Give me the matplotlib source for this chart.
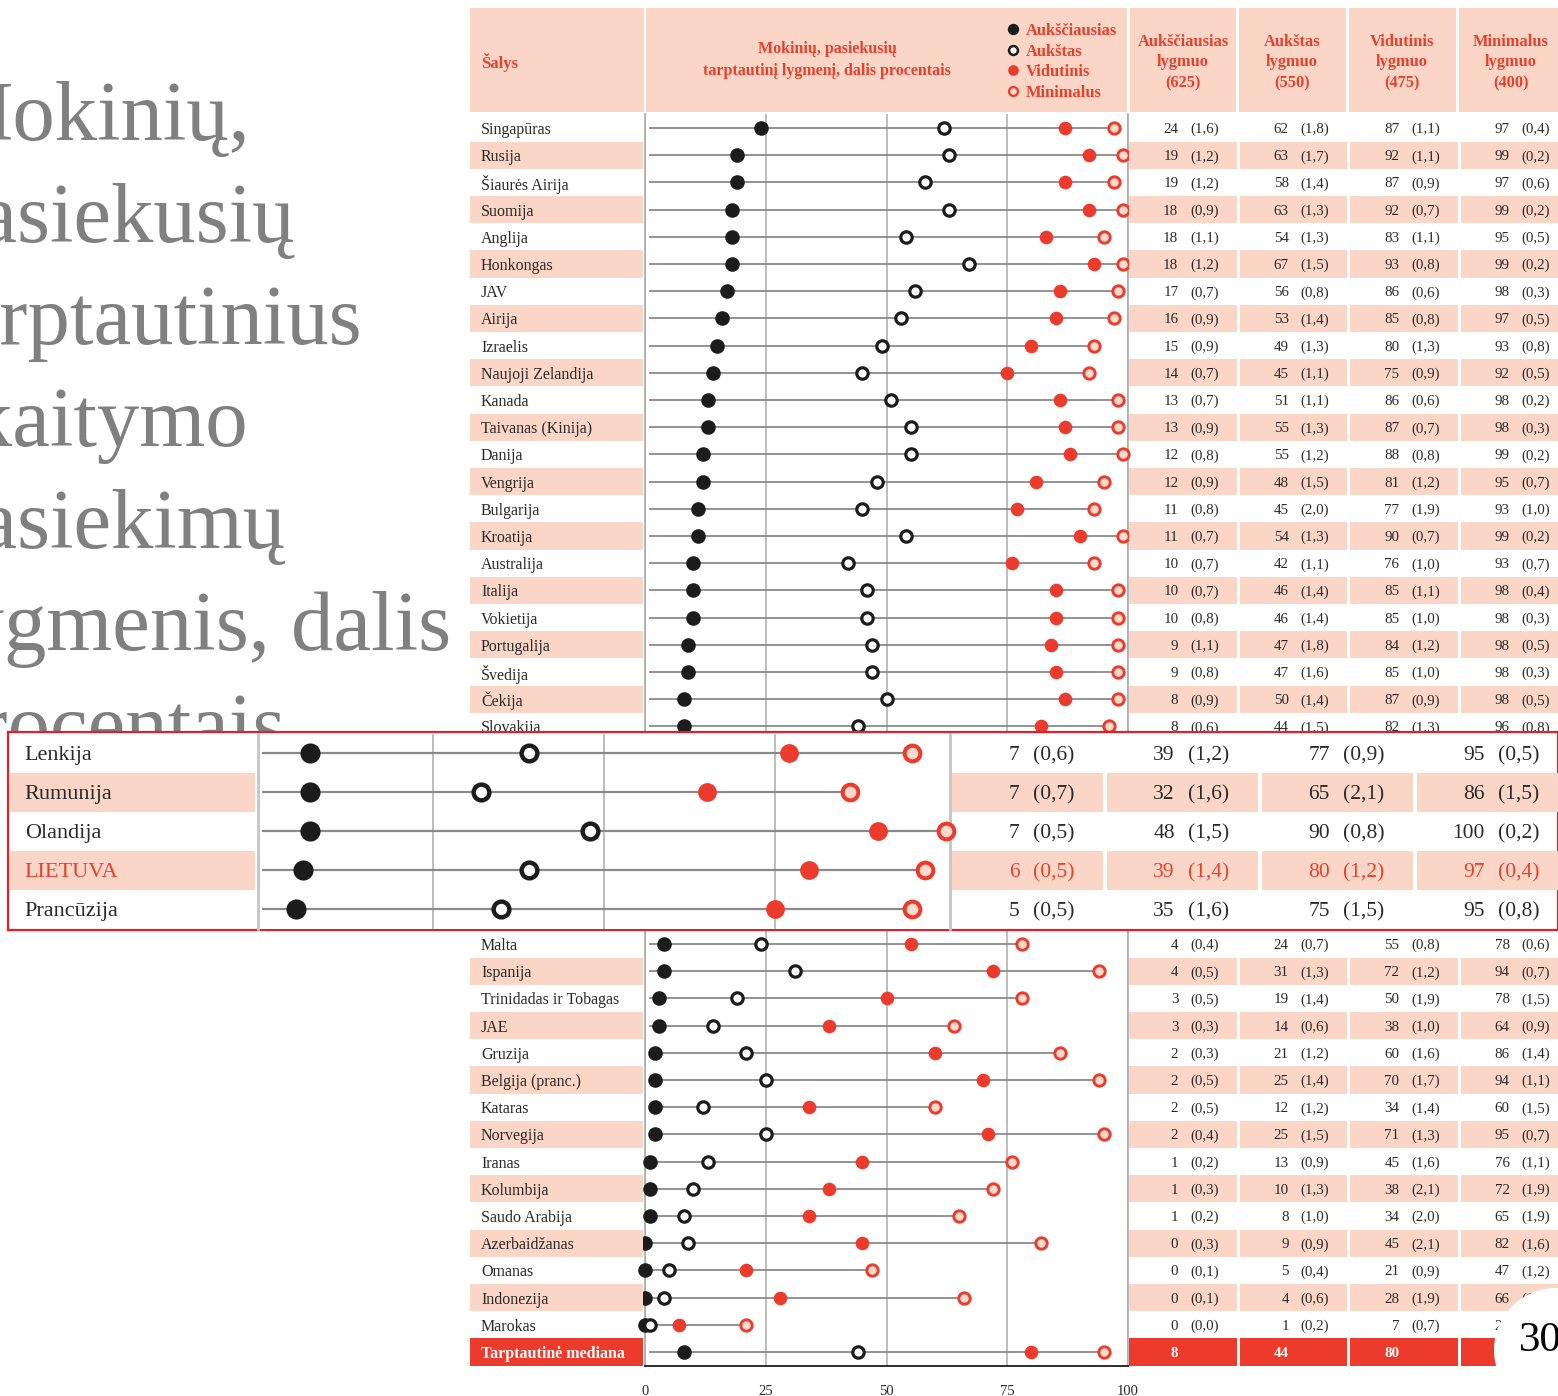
import matplotlib
matplotlib.use("Agg")
import matplotlib.pyplot as plt
from matplotlib.patches import Rectangle, Circle
from matplotlib.ticker import FixedLocator

plt.rcParams['font.family'] = ['Liberation Serif', 'DejaVu Serif']

# ---------------- data ----------------
top_countries = ["Singapūras", "Rusija", "Šiaurės Airija", "Suomija", "Anglija", "Honkongas", "JAV",
                 "Airija", "Izraelis", "Naujoji Zelandija", "Kanada", "Taivanas (Kinija)", "Danija",
                 "Vengrija", "Bulgarija", "Kroatija", "Australija", "Italija", "Vokietija",
                 "Portugalija", "Švedija", "Čekija", "Slovakija"]
top_adv = [24, 19, 19, 18, 18, 18, 17, 16, 15, 14, 13, 13, 12, 12, 11, 11, 10, 10, 10, 9, 9, 8, 8]
top_high = [62, 63, 58, 63, 54, 67, 56, 53, 49, 45, 51, 55, 55, 48, 45, 54, 42, 46, 46, 47, 47, 50, 44]
top_int = [87, 92, 87, 92, 83, 93, 86, 85, 80, 75, 86, 87, 88, 81, 77, 90, 76, 85, 85, 84, 85, 87, 82]
top_low = [97, 99, 97, 99, 95, 99, 98, 97, 93, 92, 98, 98, 99, 95, 93, 99, 93, 98, 98, 98, 98, 98, 96]
top_adv_se = ["1,6", "1,2", "1,2", "0,9", "1,1", "1,2", "0,7", "0,9", "0,9", "0,7", "0,7", "0,9", "0,8",
              "0,9", "0,8", "0,7", "0,7", "0,7", "0,8", "1,1", "0,8", "0,9", "0,6"]
top_high_se = ["1,8", "1,7", "1,4", "1,3", "1,3", "1,5", "0,8", "1,4", "1,3", "1,1", "1,1", "1,3", "1,2",
               "1,5", "2,0", "1,3", "1,1", "1,4", "1,4", "1,8", "1,6", "1,4", "1,5"]
top_int_se = ["1,1", "1,1", "0,9", "0,7", "1,1", "0,8", "0,6", "0,8", "1,3", "0,9", "0,6", "0,7", "0,8",
              "1,2", "1,9", "0,7", "1,0", "1,1", "1,0", "1,2", "1,0", "0,9", "1,3"]
top_low_se = ["0,4", "0,2", "0,6", "0,2", "0,5", "0,2", "0,3", "0,5", "0,8", "0,5", "0,2", "0,3", "0,2",
              "0,7", "1,0", "0,2", "0,7", "0,4", "0,3", "0,5", "0,3", "0,5", "0,8"]

bot_countries = ["Malta", "Ispanija", "Trinidadas ir Tobagas", "JAE", "Gruzija", "Belgija (pranc.)",
                 "Kataras", "Norvegija", "Iranas", "Kolumbija", "Saudo Arabija", "Azerbaidžanas",
                 "Omanas", "Indonezija", "Marokas"]
bot_adv = [4, 4, 3, 3, 2, 2, 2, 2, 1, 1, 1, 0, 0, 0, 0]
bot_high = [24, 31, 19, 14, 21, 25, 12, 25, 13, 10, 8, 9, 5, 4, 1]
bot_int = [55, 72, 50, 38, 60, 70, 34, 71, 45, 38, 34, 45, 21, 28, 7]
bot_low = [78, 94, 78, 64, 86, 94, 60, 95, 76, 72, 65, 82, 47, 66, 21]
bot_adv_se = ["0,4", "0,5", "0,5", "0,3", "0,3", "0,5", "0,5", "0,4", "0,2", "0,3", "0,2", "0,3", "0,1", "0,1", "0,0"]
bot_high_se = ["0,7", "1,3", "1,4", "0,6", "1,2", "1,4", "1,2", "1,5", "0,9", "1,3", "1,0", "0,9", "0,4", "0,6", "0,2"]
bot_int_se = ["0,8", "1,2", "1,9", "1,0", "1,6", "1,7", "1,4", "1,3", "1,6", "2,1", "2,0", "2,1", "0,9", "1,9", "0,7"]
bot_low_se = ["0,6", "0,7", "1,5", "0,9", "1,4", "1,1", "1,5", "0,7", "1,1", "1,9", "1,9", "1,6", "1,2", "1,7", "1,3"]

median_label = "Tarptautinė mediana"
median_vals = [8, 44, 80, 95]

inset_countries = ["Lenkija", "Rumunija", "Olandija", "LIETUVA", "Prancūzija"]
inset_adv = [7, 7, 7, 6, 5]
inset_high = [39, 32, 48, 39, 35]
inset_int = [77, 65, 90, 80, 75]
inset_low = [95, 86, 100, 97, 95]
inset_adv_se = ["0,6", "0,7", "0,5", "0,5", "0,5"]
inset_high_se = ["1,2", "1,6", "1,5", "1,4", "1,6"]
inset_int_se = ["0,9", "2,1", "0,8", "1,2", "1,5"]
inset_low_se = ["0,5", "1,5", "0,2", "0,4", "0,8"]

level_names = ["Aukščiausias", "Aukštas", "Vidutinis", "Minimalus"]
col_headers = ["Aukščiausias\nlygmuo\n(625)", "Aukštas\nlygmuo\n(550)",
               "Vidutinis\nlygmuo\n(475)", "Minimalus\nlygmuo\n(400)"]
x_ticks = [0, 25, 50, 75, 100]
title_lines = ["Mokinių,", "pasiekusių", "tarptautinius", "skaitymo", "pasiekimų",
               "lygmenis, dalis", "procentais"]

# ---------------- styling ----------------
W, H = 1558, 1396
RED = '#EC3B2C'
TXTRED = '#E4412F'
PINK = '#FBD6C7'
GRID = '#ABABAB'
ROWLINE = '#8A8A8A'
BLACK = '#1C1C1C'
MINFACE = '#FCDACC'
TXT = '#2A2A2A'
VC = 'center_baseline'

fig = plt.figure(figsize=(W / 100, H / 100), dpi=100)
fig.patch.set_facecolor('white')


def px_axes(x0, y0, x1, y1, z=0):
    ax = fig.add_axes([x0 / W, 1 - y1 / H, (x1 - x0) / W, (y1 - y0) / H])
    ax.set_zorder(z)
    return ax


def marker_styles(scale=1.0):
    return [
        dict(marker='o', ms=10.5 * scale, mfc=BLACK, mec=BLACK, mew=0),
        dict(marker='o', ms=8.2 * scale, mfc='white', mec=BLACK, mew=2.3 * scale),
        dict(marker='o', ms=9.8 * scale, mfc=RED, mec=RED, mew=0),
        dict(marker='o', ms=8.2 * scale, mfc=MINFACE, mec=RED, mew=2.1 * scale),
    ]


# ---------------- big grey title (clipped) ----------------
ax_t = px_axes(0, 0, 470, 732, z=0)
ax_t.set_xlim(0, 470)
ax_t.set_ylim(732, 0)
ax_t.axis('off')
for k, line in enumerate(title_lines):
    ax_t.text(-62, 140 + 102 * k, line, fontsize=61, color='#808080', ha='left', va='baseline',
              clip_on=True)

# ---------------- header ----------------
ax_h = px_axes(470, 0, 1570, 114, z=1)
ax_h.set_xlim(470, 1570)
ax_h.set_ylim(114, 0)
ax_h.axis('off')
for x0, x1 in [(470, 644), (646, 1127), (1130, 1236), (1239, 1346), (1349, 1456), (1459, 1570)]:
    ax_h.add_patch(Rectangle((x0, 8), x1 - x0, 104, color=PINK, lw=0))
ax_h.text(481, 60, "Šalys", color=TXTRED, fontsize=12, fontweight='bold', ha='left', va=VC)
ax_h.text(827, 60, "Mokinių, pasiekusių\ntarptautinį lygmenį, dalis procentais", color=TXTRED,
          fontsize=11.5, fontweight='bold', ha='center', va='center', linespacing=1.45)
ms_leg = marker_styles(0.78)
for k, name in enumerate(level_names):
    yy = 29 + 20.7 * k
    ax_h.plot([1013], [yy], ls='none', **ms_leg[k])
    ax_h.text(1026, yy, name, color=TXTRED, fontsize=11.8, fontweight='bold', ha='left', va=VC)
for k, txt in enumerate(col_headers):
    cx = [1183, 1292, 1402, 1511][k]
    for j, part in enumerate(txt.split("\n")):
        ax_h.text(cx, 40 + 20.5 * j, part, color=TXTRED, fontsize=11.8, fontweight='bold',
                  ha='center', va=VC)

# ---------------- main chart ----------------
NROWS = 46
TOP, BOT = 114.4, 1365.6
ax_p = px_axes(645, TOP, 1128, BOT, z=1)
ax_l = px_axes(470, TOP, 645, BOT, z=1)
ax_tb = px_axes(1128, TOP, 1570, BOT, z=1)
for a in (ax_p, ax_l, ax_tb):
    a.set_ylim(NROWS - 0.5, -0.5)
ax_l.set_xlim(0, 1)
ax_tb.set_xlim(0, 4)
for a in (ax_l, ax_tb):
    a.axis('off')

rows = []  # (y, name, vals, ses)
for i, c in enumerate(top_countries):
    rows.append((i, c, [top_adv[i], top_high[i], top_int[i], top_low[i]],
                 [top_adv_se[i], top_high_se[i], top_int_se[i], top_low_se[i]]))
for j, c in enumerate(bot_countries):
    rows.append((30 + j, c, [bot_adv[j], bot_high[j], bot_int[j], bot_low[j]],
                 [bot_adv_se[j], bot_high_se[j], bot_int_se[j], bot_low_se[j]]))
median_y = 45

# stripes
pink_rows = [r[0] for r in rows if r[0] % 2 == 1]
ax_l.barh(pink_rows, 0.989, left=0, height=1.0, color=PINK, lw=0)
for c in range(4):
    ax_tb.barh(pink_rows, 0.974, left=c + 0.012, height=1.0, color=PINK, lw=0)
ax_l.barh([median_y], 0.989, left=0, height=1.0, color=RED, lw=0)
for c in range(4):
    ax_tb.barh([median_y], 0.974, left=c + 0.012, height=1.0, color=RED, lw=0)

ms = marker_styles(1.0)
for y, name, vals, ses in rows:
    ax_l.text(0.063, y, name, fontsize=11.5, color=TXT, ha='left', va=VC)
    ax_p.hlines(y, 0.8, vals[3], color=ROWLINE, lw=1.3, zorder=2)
    for k in range(4):
        ax_p.plot([vals[k]], [y], ls='none', zorder=3 + k, clip_on=False, **ms[k])
        ax_tb.text(k + 0.455, y, str(vals[k]), fontsize=10.8, color=TXT, ha='right', va=VC)
        ax_tb.text(k + 0.56, y, "(" + ses[k] + ")", fontsize=10.8, color=TXT, ha='left', va=VC)

# median row
ax_l.text(0.063, median_y, median_label, fontsize=11.5, color='white', fontweight='bold',
          ha='left', va=VC)
ax_p.hlines(median_y, 0.8, median_vals[3], color=ROWLINE, lw=1.3, zorder=2)
for k in range(4):
    ax_p.plot([median_vals[k]], [median_y], ls='none', zorder=3 + k, clip_on=False, **ms[k])
    ax_tb.text(k + 0.455, median_y, str(median_vals[k]), fontsize=10.8, color='white',
               fontweight='bold', ha='right', va=VC)

ax_p.set_xlim(0, 100)
ax_p.set_yticks([])
ax_p.set_xticks(x_ticks)
ax_p.set_xticklabels([str(t) for t in x_ticks], fontsize=10.5, color=TXT)
ax_p.tick_params(axis='x', which='major', length=0, pad=14)
ax_p.xaxis.set_minor_locator(FixedLocator([0, 100]))
ax_p.tick_params(axis='x', which='minor', length=7, direction='inout', width=1.1, color=BLACK)
ax_p.grid(axis='x', color=GRID, lw=1.1)
ax_p.set_axisbelow(True)
ax_p.spines['top'].set_visible(False)
for s in ('left', 'right'):
    ax_p.spines[s].set_color(GRID)
    ax_p.spines[s].set_linewidth(1.2)
ax_p.spines['bottom'].set_color(BLACK)
ax_p.spines['bottom'].set_linewidth(1.3)

# ---------------- inset (magnified rows) ----------------
ax_ib = px_axes(8, 732, 1558, 930, z=10)
ax_ib.set_xticks([])
ax_ib.set_yticks([])
ax_ib.set_facecolor('white')
for s in ax_ib.spines.values():
    s.set_color('#E2202B')
    s.set_linewidth(1.6)

IT, IB = 733.5, 928.5
ax_il = px_axes(10, IT, 257, IB, z=11)
ax_ip = px_axes(258, IT, 950, IB, z=11)
ax_it = px_axes(950, IT, 1570, IB, z=11)
n_in = len(inset_countries)
for a in (ax_il, ax_ip, ax_it):
    a.set_ylim(n_in - 0.5, -0.5)
ax_il.set_xlim(0, 1)
ax_it.set_xlim(0, 4)
ax_il.axis('off')
ax_it.axis('off')

in_pink = [1, 3]
ax_il.barh(in_pink, 0.99, left=0, height=1.0, color=PINK, lw=0)
for c in range(4):
    ax_it.barh(in_pink, 0.975, left=c + 0.012, height=1.0, color=PINK, lw=0)

ms_in = marker_styles(1.38)
for i, name in enumerate(inset_countries):
    vals = [inset_adv[i], inset_high[i], inset_int[i], inset_low[i]]
    ses = [inset_adv_se[i], inset_high_se[i], inset_int_se[i], inset_low_se[i]]
    col = TXTRED if name == "LIETUVA" else TXT
    ax_il.text(0.06, i, name, fontsize=16, color=col, ha='left', va=VC)
    ax_ip.hlines(i, 0, vals[3], color=ROWLINE, lw=1.6, zorder=2)
    for k in range(4):
        ax_ip.plot([vals[k]], [i], ls='none', zorder=3 + k, clip_on=False, **ms_in[k])
        ax_it.text(k + 0.45, i, str(vals[k]), fontsize=15.5, color=col, ha='right', va=VC)
        ax_it.text(k + 0.535, i, "(" + ses[k] + ")", fontsize=15.5, color=col, ha='left', va=VC)

ax_ip.set_xlim(-0.585, 100.585)
ax_ip.set_xticks([25, 50, 75])
ax_ip.set_yticks([])
ax_ip.tick_params(length=0, labelbottom=False)
ax_ip.grid(axis='x', color=GRID, lw=1.1)
ax_ip.set_axisbelow(True)
for s in ('top', 'bottom'):
    ax_ip.spines[s].set_visible(False)
for s in ('left', 'right'):
    ax_ip.spines[s].set_color('#C4C4C4')
    ax_ip.spines[s].set_linewidth(2)

# ---------------- page number badge ----------------
ax_o = px_axes(0, 0, W, H, z=20)
ax_o.set_xlim(0, W)
ax_o.set_ylim(H, 0)
ax_o.axis('off')
ax_o.add_patch(Circle((1556, 1350), 62, color='white', lw=0))
ax_o.text(1540, 1341, "30", fontsize=31, color='black', ha='center', va='center')

fig.savefig("out.png", dpi=100, facecolor='white')
